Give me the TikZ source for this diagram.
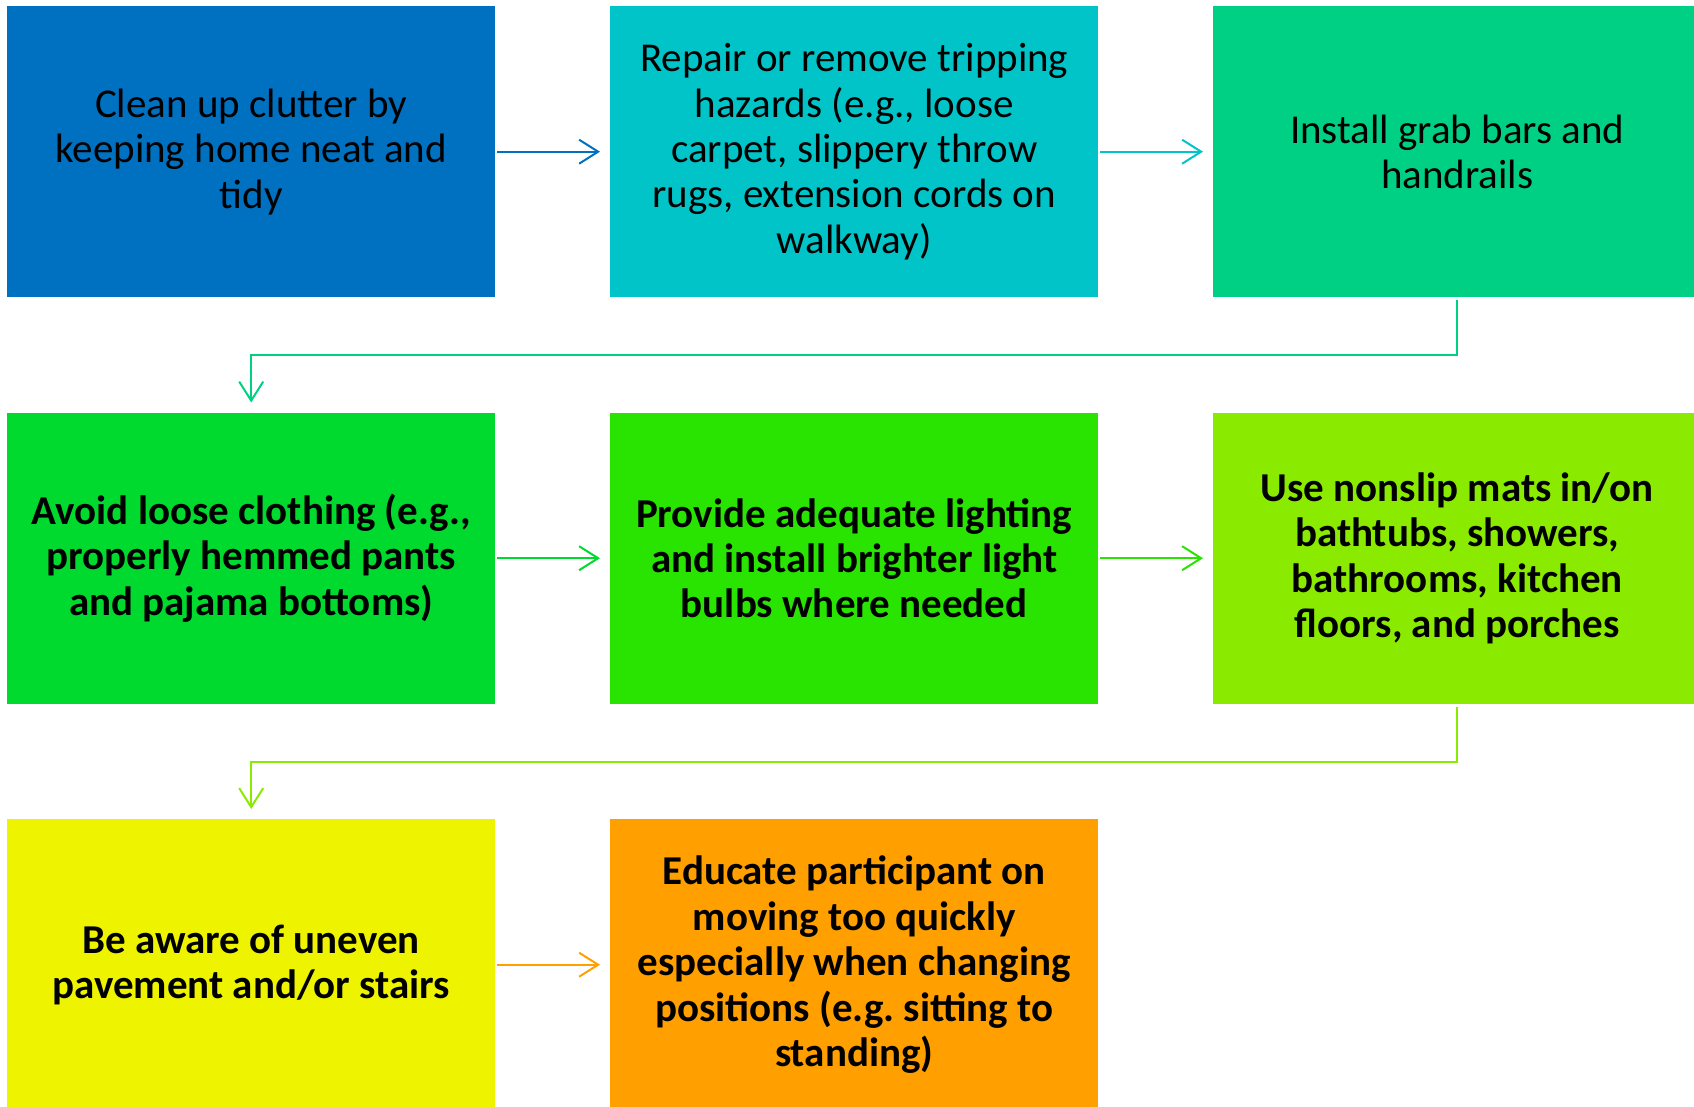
\documentclass[tikz,border=0pt]{standalone}
\usepackage{fontspec}
\setmainfont{Carlito}
\usetikzlibrary{arrows.meta}
\frenchspacing
\definecolor{cA}{HTML}{0070C0}
\definecolor{cB}{HTML}{00C4C8}
\definecolor{cC}{HTML}{00D084}
\definecolor{cD}{HTML}{00DA2E}
\definecolor{cE}{HTML}{28E400}
\definecolor{cF}{HTML}{8AEB00}
\definecolor{cG}{HTML}{EEF300}
\definecolor{cH}{HTML}{FF9F00}
\tikzset{
  box/.style={anchor=north west, minimum width=488pt, minimum height=291pt,
    inner sep=0pt, align=center, text=black,
    font=\fontsize{41}{45.4}\selectfont\frenchspacing},
  boldbox/.style={box, font=\fontsize{41}{45.4}\selectfont\bfseries\frenchspacing},
  conn/.style={line width=2pt, -{Straight Barb[length=19pt,width=24pt,line width=2pt]}}
}
\begin{document}
\begin{tikzpicture}[x=1pt,y=-1pt]
\useasboundingbox (0,0) rectangle (1694,1107);
\clip (0,0) rectangle (1694,1107);
% row 1
\node[box, fill=cA] (b1) at (7,6) {Clean up clutter by\\keeping home neat and\\tidy};
\node[box, fill=cB] (b2) at (610,6) {Repair or remove tripping\\hazards (e.g., loose\\carpet, slippery throw\\rugs, extension cords on\\walkway)};
\node[box, fill=cC] (b3) at (1213,6) {Install grab bars and\\handrails};
% row 2
\node[boldbox, fill=cD] (b4) at (7,412.5) {Avoid loose clothing (e.g.,\\properly hemmed pants\\and pajama bottoms)};
\node[boldbox, fill=cE] (b5) at (610,412.5) {Provide adequate lighting\\and install brighter light\\bulbs where needed};
\node[boldbox, fill=cF] (b6) at (1213,412.5) {Use nonslip mats in/on\\bathtubs, showers,\\bathrooms, kitchen\\floors, and porches};
% row 3
\node[boldbox, fill=cG] (b7) at (7,819) {Be aware of uneven\\pavement and/or stairs};
\node[boldbox, fill=cH] (b8) at (610,819) {Educate participant on\\moving too quickly\\especially when changing\\positions (e.g. sitting to\\standing)};
% connectors
\draw[conn, cA] ([xshift=2pt]b1.east) -- ([xshift=-10pt]b2.west);
\draw[conn, cB] ([xshift=2pt]b2.east) -- ([xshift=-10pt]b3.west);
\draw[conn, cC] ([yshift=-3pt]b3.south) -- ++(0,55) -| ([yshift=10pt]b4.north);
\draw[conn, cD] ([xshift=2pt]b4.east) -- ([xshift=-10pt]b5.west);
\draw[conn, cE] ([xshift=2pt]b5.east) -- ([xshift=-10pt]b6.west);
\draw[conn, cF] ([yshift=-3pt]b6.south) -- ++(0,55) -| ([yshift=10pt]b7.north);
\draw[conn, cH] ([xshift=2pt]b7.east) -- ([xshift=-10pt]b8.west);
\end{tikzpicture}
\end{document}
